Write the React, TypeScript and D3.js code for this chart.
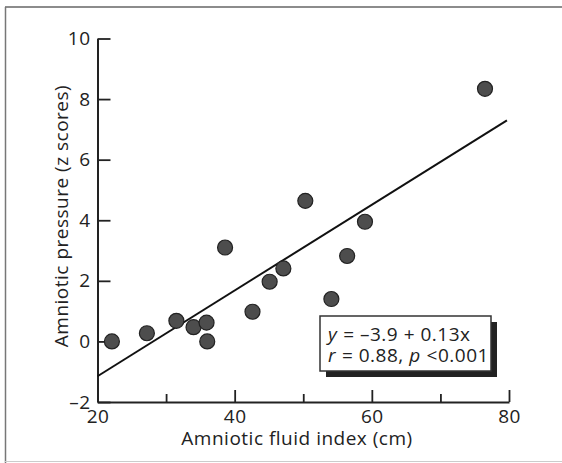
import React, { useEffect, useRef } from 'react';
import * as d3 from 'd3';

// amniotic fluid index (cm) and amniotic pressure (z scores)
const afi = [22.1, 27.2, 31.5, 34.0, 35.9, 36.0, 38.6, 42.6, 45.1, 47.1, 50.3, 54.1, 56.4, 59.0, 76.5];
const pressure = [0.0, 0.27, 0.68, 0.47, 0.62, 0.0, 3.1, 0.98, 1.97, 2.41, 4.64, 1.4, 2.82, 3.95, 8.34];

// fitted line as drawn
const fitX = [20, 79.7];
const fitY = [-1.15, 7.3];

const xTicks = [20, 40, 60, 80];
const xMinorTicks = [30, 50, 70];
const yTicks = [-2, 0, 2, 4, 6, 8, 10];

const xTitle = 'Amniotic fluid index (cm)';
const yTitle = 'Amniotic pressure (z scores)';

// equation lines, split into [text, italic] pieces
const eqLines: [string, boolean][][] = [
  [['y', true], [' = –3.9 + 0.13x', false]],
  [['r', true], [' = 0.88, ', false], ['p', true], [' <0.001', false]],
];

const FONT = '"Open Sans", "DejaVu Sans", sans-serif';

const App: React.FC = () => {
  const ref = useRef<SVGSVGElement>(null);

  useEffect(() => {
    const width = 562, height = 463;
    const svg = d3.select(ref.current)
      .attr('width', width)
      .attr('height', height);
    svg.selectAll('*').remove();

    svg.append('rect')
      .attr('width', width)
      .attr('height', height)
      .attr('fill', '#fff');

    // scan frame
    svg.append('line').attr('x1', 5).attr('x2', width).attr('y1', 7).attr('y2', 7)
      .attr('stroke', '#666').attr('stroke-width', 1.5);
    svg.append('line').attr('x1', 5.5).attr('x2', 5.5).attr('y1', 7).attr('y2', height)
      .attr('stroke', '#777').attr('stroke-width', 1.5);
    svg.append('line').attr('x1', 5).attr('x2', width).attr('y1', 461.5).attr('y2', 461.5)
      .attr('stroke', '#ccc').attr('stroke-width', 1);

    const x = d3.scaleLinear().domain([20, 80]).range([97.5, 509]);
    const y = d3.scaleLinear().domain([-2, 10]).range([402, 38.5]);

    // x axis
    const xAxis = svg.append('g')
      .attr('transform', `translate(0,${y(-2)})`)
      .call(d3.axisBottom(x).tickValues(xTicks).tickSizeInner(-12).tickSizeOuter(0).tickPadding(8));
    svg.append('g')
      .attr('transform', `translate(0,${y(-2)})`)
      .call(d3.axisBottom(x).tickValues(xMinorTicks).tickSizeInner(-8).tickSizeOuter(0).tickFormat(() => ''))
      .select('.domain').remove();

    // y axis
    const yAxis = svg.append('g')
      .attr('transform', `translate(${x(20)},0)`)
      .call(d3.axisLeft(y).tickValues(yTicks).tickSizeInner(-13).tickSizeOuter(0).tickPadding(7)
        .tickFormat(d => (+d < 0 ? '–' + Math.abs(+d) : String(d))));

    [xAxis, yAxis].forEach(a => {
      a.select('.domain').attr('stroke', '#222').attr('stroke-width', 2);
      a.selectAll('text')
        .style('font-family', FONT)
        .style('font-size', '19px')
        .style('letter-spacing', '0.5px')
        .attr('fill', '#222');
    });
    svg.selectAll('.tick line').attr('stroke', '#222').attr('stroke-width', 1.8);

    // titles
    svg.append('text')
      .attr('x', 297)
      .attr('y', 445)
      .attr('text-anchor', 'middle')
      .style('font-family', FONT)
      .style('font-size', '19px')
      .style('letter-spacing', '0.5px')
      .attr('fill', '#222')
      .text(xTitle);

    svg.append('text')
      .attr('transform', `translate(68,${216}) rotate(-90)`)
      .attr('text-anchor', 'middle')
      .style('font-family', FONT)
      .style('font-size', '19px')
      .style('letter-spacing', '0.5px')
      .attr('fill', '#222')
      .text(yTitle);

    // regression line
    svg.append('line')
      .attr('x1', x(fitX[0])).attr('y1', y(fitY[0]))
      .attr('x2', x(fitX[1])).attr('y2', y(fitY[1]))
      .attr('stroke', '#111')
      .attr('stroke-width', 2);

    // points
    svg.append('g')
      .selectAll('circle')
      .data(afi.map((a, i) => [a, pressure[i]]))
      .join('circle')
      .attr('cx', d => x(d[0]))
      .attr('cy', d => y(d[1]))
      .attr('r', 7.5)
      .attr('fill', '#4d4d4d')
      .attr('stroke', '#222')
      .attr('stroke-width', 1.2);

    // equation box with drop shadow
    const box = svg.append('g').attr('transform', 'translate(320,316)');
    box.append('rect')
      .attr('x', 6).attr('y', 6).attr('width', 171).attr('height', 55)
      .attr('fill', '#222');
    box.append('rect')
      .attr('width', 171).attr('height', 55)
      .attr('fill', '#fff')
      .attr('stroke', '#333')
      .attr('stroke-width', 1.5);

    // each piece is its own text, placed after the previous one
    eqLines.forEach((pieces, li) => {
      let cx = 8;
      pieces.forEach(([str, italic]) => {
        const t = box.append('text')
          .attr('x', cx).attr('y', 25 + li * 21)
          .style('font-family', FONT)
          .style('font-size', '19px')
          .style('letter-spacing', '0.5px')
          .style('white-space', 'pre')
          .style('font-style', italic ? 'italic' : 'normal')
          .attr('fill', '#222')
          .text(str);
        const node = t.node() as SVGTextElement;
        cx += node.getComputedTextLength() + (italic ? 0.5 : 0);
      });
    });
  }, []);

  return (
    <svg ref={ref} style={{ position: 'absolute', left: 0, top: 0, display: 'block' }}></svg>
  );
};

export default App;
